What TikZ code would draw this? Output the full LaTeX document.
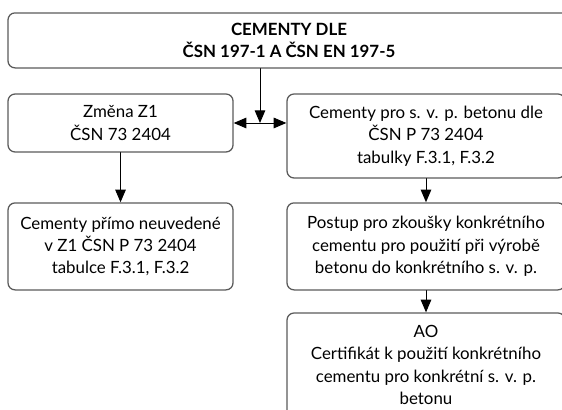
\documentclass[tikz,border=0pt]{standalone}
\usepackage{fontspec}
\setmainfont{Lato}
\usetikzlibrary{arrows.meta,calc}
\definecolor{boxgray}{HTML}{5A5A5A}

\begin{document}
\begin{tikzpicture}[
						line cap=round,
						line join=round,
						every node/.style={font=\fontsize{12}{15.9}\selectfont},
						blok/.style={draw=boxgray, line width=0.9pt, rounded corners=5pt,
							align=center, inner sep=0pt},
						sipka/.style={-{Triangle[length=9pt,width=7.5pt]}, line width=0.7pt}
						]
						
						\useasboundingbox (0,0) rectangle (14.05,10.25);
						\clip (0,0) rectangle (14.05,10.25);
						
						\node[blok, minimum width=14.05cm, minimum height=1.375cm] (cementy) at (7.225,9.24)
							{\textbf{CEMENTY DLE}\\\textbf{ČSN 197-1 A ČSN EN 197-5}};
						
						\node[blok, minimum width=5.625cm, minimum height=1.45cm] (zmena) at (3.013,7.175)
							{Změna Z1\\ČSN 73 2404};
						\node[blok, minimum width=6.95cm, minimum height=2.1cm] (csnp) at (10.65,6.85)
							{Cementy pro s. v. p. betonu dle\\ČSN P 73 2404\\tabulky F.3.1, F.3.2};
						
						\node[blok, minimum width=5.625cm, minimum height=2.175cm] (neuvedene) at (3.013,4.09)
							{Cementy přímo neuvedené\\v Z1 ČSN P 73 2404\\tabulce F.3.1, F.3.2};
						\node[blok, minimum width=6.95cm, minimum height=2.175cm] (postup) at (10.65,4.09)
							{Postup pro zkoušky konkrétního\\cementu pro použití při výrobě\\betonu do konkrétního s. v. p.};
						
						\node[blok, minimum width=6.95cm, minimum height=2.6cm] (ao) at (10.65,1.125)
							{AO\\Certifikát k použití konkrétního\\cementu pro konkrétní s. v. p.\\betonu};
						
						% spojnice
						\coordinate (stred) at ($(zmena.east)!0.5!(csnp.west |- zmena.east)$);
						\draw[sipka, {Triangle[length=9pt,width=7.5pt]}-{Triangle[length=9pt,width=7.5pt]}]
							(zmena.east) -- (zmena.east -| csnp.west);
						\draw[sipka] (cementy.south -| stred) -- (stred);
						\draw[sipka] (zmena.south) -- (neuvedene.north);
						\draw[sipka] (csnp.south) -- (postup.north);
						\draw[sipka] (postup.south) -- (ao.north);
						
					\end{tikzpicture}
\end{document}
